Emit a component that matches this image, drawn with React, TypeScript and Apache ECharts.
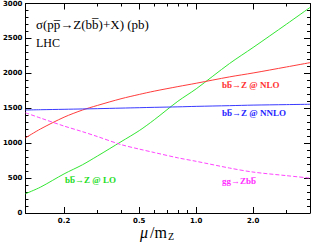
import React, { useEffect, useRef } from "react";
import * as echarts from "echarts";

const mu = [0.125, 0.15, 0.2, 0.25, 0.3, 0.4, 0.5, 0.6, 0.8, 1.0, 1.5, 2.0, 3.0, 4.0];
const lo = [276, 370, 560, 690, 815, 1020, 1180, 1335, 1600, 1778, 2140, 2370, 2703, 2943];
const nlo = [1076, 1203, 1372, 1474, 1540, 1636, 1698, 1745, 1810, 1858, 1949, 2005, 2091, 2153];
const nnlo = [1475, 1479, 1485, 1490, 1494, 1502, 1508, 1513, 1520, 1527, 1537, 1545, 1552, 1557];
const ggZbb = [1435, 1360, 1245, 1165, 1095, 980, 915, 866, 790, 740, 644, 586, 535, 500];

const xMajorTicks = [0.2, 0.5, 1.0, 2.0];
const xMajorLabels = ["0.2", "0.5", "1.0", "2.0"];
const xMinorTicks = [0.3, 0.4, 0.6, 0.7, 0.8, 0.9, 3.0];
const xMin = 0.125;
const xMax = 4.0;

const L = Math.log10;

function toData(vals: number[]) {
  return mu.map((m, i) => [L(m), vals[i]]);
}

export default function App() {
  const ref = useRef<HTMLDivElement>(null);
  useEffect(() => {
    if (!ref.current) return;
    const chart = echarts.init(ref.current, null, { renderer: "svg" });
    const black = "#000";
    const labelFont = { fontFamily: "DejaVu Sans", fontWeight: "bold" as const, fontSize: 7, color: black };
    const baseX = {
      type: "value" as const,
      min: L(xMin),
      max: L(xMax),
      splitLine: { show: false },
      axisLine: { show: true, onZero: false, lineStyle: { color: black, width: 1 } },
    };
    const xAxes = [
      {
        ...baseX,
        position: "bottom",
        axisTick: { show: true, inside: true, length: 6, customValues: xMajorTicks.map(L), lineStyle: { color: black } },
        axisLabel: {
          show: true,
          ...labelFont,
          margin: 4,
          customValues: xMajorTicks.map(L),
          formatter: (v: number) => {
            let best = 0;
            xMajorTicks.forEach((t, i) => {
              if (Math.abs(L(t) - v) < Math.abs(L(xMajorTicks[best]) - v)) best = i;
            });
            return xMajorLabels[best];
          },
        },
      },
      {
        ...baseX,
        position: "bottom",
        axisLine: { show: false, onZero: false },
        axisTick: { show: true, inside: true, length: 3, customValues: xMinorTicks.map(L), lineStyle: { color: black } },
        axisLabel: { show: false },
      },
      {
        ...baseX,
        position: "top",
        axisTick: { show: true, inside: true, length: 6, customValues: xMajorTicks.map(L), lineStyle: { color: black } },
        axisLabel: { show: false },
      },
      {
        ...baseX,
        position: "top",
        axisLine: { show: false, onZero: false },
        axisTick: { show: true, inside: true, length: 3, customValues: xMinorTicks.map(L), lineStyle: { color: black } },
        axisLabel: { show: false },
      },
    ];
    const baseY = {
      type: "value" as const,
      min: 0,
      max: 3000,
      interval: 500,
      splitLine: { show: false },
      axisLine: { show: true, onZero: false, lineStyle: { color: black, width: 1 } },
      axisTick: { show: true, inside: true, length: 6, lineStyle: { color: black } },
      minorTick: { show: true, splitNumber: 5, length: 3, lineStyle: { color: black } },
    };
    const line = (name: string, vals: number[], color: string, dashed = false) => ({
      name,
      type: "line" as const,
      xAxisIndex: 0,
      yAxisIndex: 0,
      data: toData(vals),
      smooth: 0.3,
      showSymbol: false,
      lineStyle: { color, width: 1, type: dashed ? [4, 2] : "solid" },
    });
    const txt = (text: string, x: number, y: number, font: string, fill: string) => ({
      type: "text" as const,
      x,
      y,
      style: { text, x: 0, y: 0, font, fill, textVerticalAlign: "middle", verticalAlign: "middle" },
    });
    const serif = "'Liberation Serif'";
    chart.setOption({
      animation: false,
      grid: { left: 21, top: 3, right: 2, bottom: 29, containLabel: false },
      xAxis: xAxes,
      yAxis: [
        { ...baseY, position: "left", axisLabel: { show: true, ...labelFont, margin: 3, formatter: (v: number) => String(v) } },
        { ...baseY, position: "right", axisLabel: { show: false } },
      ],
      series: [
        line("bb→Z @ LO", lo, "#33e633"),
        line("bb→Z @ NLO", nlo, "#ff3c3c"),
        line("bb→Z @ NNLO", nnlo, "#3a3aff"),
        line("gg→Zbb", ggZbb, "#ff44ff", true),
      ],
      graphic: [
        txt("σ(pp\u0305→Z(bb\u0305)+X) (pb)", 36, 24, `13px ${serif}`, black),
        txt("LHC", 36, 43, `12px ${serif}`, black),
        txt("bb\u0305→Z @ NLO", 222, 85, `bold 9px ${serif}`, "#ff3030"),
        txt("bb\u0305→Z @ NNLO", 222, 113, `bold 9px ${serif}`, "#2424ff"),
        txt("bb\u0305→Z @ LO", 65, 180, `bold 9px ${serif}`, "#22dd22"),
        txt("gg→Zbb\u0305", 222, 181, `bold 9px ${serif}`, "#ff30ff"),
        txt("μ", 140, 232, `italic 16px ${serif}`, black),
        txt("/m", 150, 232, `16px ${serif}`, black),
        txt("Z", 168, 236, `10px ${serif}`, black),
      ],
    });
    return () => chart.dispose();
  }, []);
  return <div ref={ref} style={{ position: "absolute", left: 0, top: 0, width: 312, height: 242 }} />;
}
